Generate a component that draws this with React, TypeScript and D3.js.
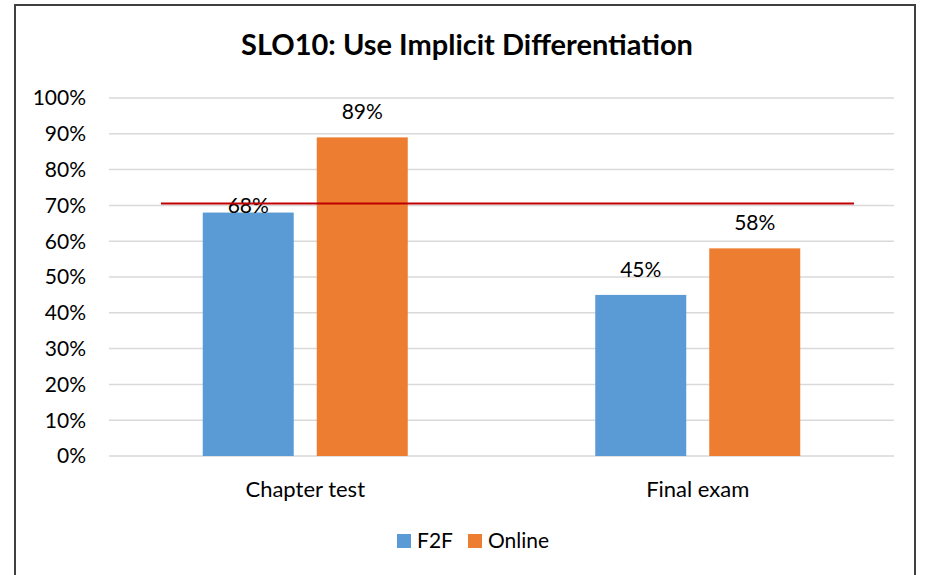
import React from "react";
import * as d3 from "d3";

const categories = ["Chapter test", "Final exam"];
const seriesNames = ["F2F", "Online"];
const f2f = [0.68, 0.45];
const online = [0.89, 0.58];
const threshold = 0.705;
const yTicks = [0, 0.1, 0.2, 0.3, 0.4, 0.5, 0.6, 0.7, 0.8, 0.9, 1.0];
const colors = ["#5B9BD5", "#ED7D31"];

const W = 925;
const H = 575;
const font = "Lato, Calibri, 'Open Sans', sans-serif";

export default function App() {
  const plot = { left: 109, right: 894, top: 98, bottom: 456 };
  const y = d3.scaleLinear().domain([0, 1]).range([plot.bottom, plot.top]);
  const x0 = d3.scaleBand<string>().domain(categories).range([plot.left, plot.right]).paddingInner(0).paddingOuter(0);
  const bw = x0.bandwidth();
  const outer = (bw - 205) / 2;
  const x1 = d3.scaleBand<string>().domain(seriesNames).range([outer, bw - outer]).paddingInner(0.2018).paddingOuter(0);
  const seriesVals = [f2f, online];
  const fmt = d3.format(".0%");

  return (
    <svg width={W} height={H} style={{ position: "absolute", left: 0, top: 0, background: "#fff" }} fontFamily={font}>
      <rect x={15} y={5} width={900} height={580} fill="#fff" stroke="#404040" strokeWidth={2} />
      <text x={467} y={55} textAnchor="middle" fontWeight="bold" fontSize={29} fill="#000">
        SLO10: Use Implicit Differentiation
      </text>
      {yTicks.map((t) => (
        <g key={t}>
          <line x1={plot.left} x2={plot.right} y1={y(t)} y2={y(t)} stroke="#d9d9d9" strokeWidth={1.5} />
          <text x={86} y={y(t)} dy="0.35em" textAnchor="end" fontSize={21} fill="#000">
            {fmt(t)}
          </text>
        </g>
      ))}
      {categories.map((c, ci) => (
        <g key={c}>
          {seriesNames.map((s, si) => {
            const v = seriesVals[si][ci];
            const bx = (x0(c) as number) + (x1(s) as number);
            const labelGap = ci === 0 && si === 0 ? 0 : 18;
            return (
              <g key={s}>
                <rect x={bx} y={y(v)} width={x1.bandwidth()} height={plot.bottom - y(v)} fill={colors[si]} />
                <text x={bx + x1.bandwidth() / 2} y={y(v) - labelGap} textAnchor="middle" fontSize={21} fill="#000">
                  {fmt(v)}
                </text>
              </g>
            );
          })}
          <text x={(x0(c) as number) + bw / 2} y={497} textAnchor="middle" fontSize={22} fill="#000">
            {c}
          </text>
        </g>
      ))}
      <line
        x1={(x0(categories[0]) as number) + 52}
        x2={(x0(categories[1]) as number) + bw - 40}
        y1={y(threshold)}
        y2={y(threshold)}
        stroke="#C00000"
        strokeWidth={2}
      />
      {seriesNames.map((s, i) => {
        const lx = i === 0 ? 397 : 468;
        return (
          <g key={s}>
            <rect x={lx} y={534} width={14} height={14} fill={colors[i]} />
            <text x={lx + 20} y={541} dy="0.35em" fontSize={21} fill="#000">
              {s}
            </text>
          </g>
        );
      })}
    </svg>
  );
}
